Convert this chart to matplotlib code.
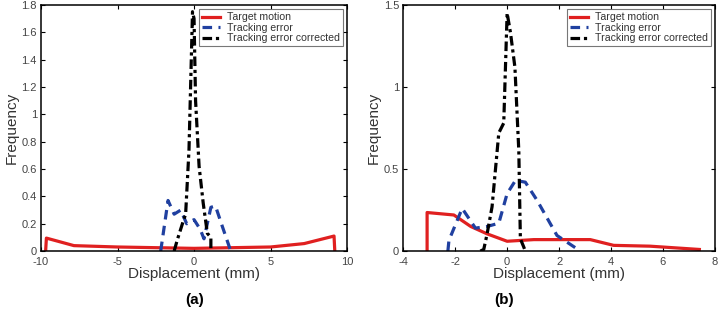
import matplotlib
matplotlib.use('Agg')
import matplotlib.pyplot as plt

plt.rcParams['font.family'] = ['Liberation Sans', 'DejaVu Sans']
plt.rcParams['axes.unicode_minus'] = False

# (a) values
a_target_x = [-9.7, -9.65, -7.85, -5.0, 0.0, 5.0, 7.2, 9.15, 9.2]
a_target_y = [0.0, 0.095, 0.04, 0.03, 0.02, 0.03, 0.055, 0.11, 0.0]
a_err_x = [-2.18, -1.7, -1.3, -0.87, -0.48, 0.0, 0.4, 0.65, 1.1, 1.4, 1.85, 2.4]
a_err_y = [0.0, 0.37, 0.27, 0.30, 0.20, 0.23, 0.16, 0.09, 0.32, 0.33, 0.18, 0.0]
a_cor_x = [-1.3, -1.1, -0.76, -0.55, -0.33, -0.1, 0.0, 0.1, 0.33, 0.6, 0.87, 1.1, 1.1]
a_cor_y = [0.0, 0.08, 0.2, 0.27, 0.74, 1.75, 1.7, 1.1, 0.62, 0.35, 0.13, 0.1, 0.0]

# (b)
b_target_x = [-3.08, -3.08, -2.05, -1.4, -0.77, 0.0, 1.03, 3.2, 4.1, 5.5, 7.4]
b_target_y = [0.0, 0.235, 0.22, 0.15, 0.105, 0.06, 0.07, 0.07, 0.035, 0.03, 0.01]
b_err_x = [-2.28, -2.24, -1.73, -1.22, -0.77, -0.32, 0.0, 0.32, 0.7, 1.15, 1.92, 2.3, 2.82]
b_err_y = [0.0, 0.065, 0.26, 0.14, 0.15, 0.17, 0.35, 0.43, 0.42, 0.31, 0.095, 0.055, 0.0]
b_cor_x = [-1.03, -0.9, -0.77, -0.58, -0.32, -0.13, 0.0, 0.13, 0.3, 0.45, 0.51, 0.64, 0.7]
b_cor_y = [0.0, 0.01, 0.105, 0.27, 0.72, 0.78, 1.45, 1.33, 1.12, 0.61, 0.075, 0.025, 0.0]

labels = ['Target motion', 'Tracking error', 'Tracking error corrected']

fig = plt.figure(figsize=(7.2, 3.24), dpi=100)
ax1 = fig.add_axes([0.057, 0.225, 0.425, 0.76])
ax2 = fig.add_axes([0.56, 0.225, 0.433, 0.76])


def draw(ax, tx, ty, ex, ey, cx, cy, xlim, ylim, xticks, yticks):
    ax.plot(tx, ty, color='#e02020', lw=2.3, label=labels[0])
    ax.plot(ex, ey, color='#2040a0', lw=2.3, ls=(0, (3, 2)), label=labels[1])
    ax.plot(cx, cy, color='black', lw=2.3, ls=(0, (3, 1.2, 1, 1.2)), label=labels[2])
    ax.set_xlim(xlim)
    ax.set_ylim(ylim)
    ax.set_xticks(xticks)
    ax.set_yticks(yticks)
    for s in ax.spines.values():
        s.set_linewidth(1.1)
    ax.tick_params(direction='in', top=True, right=True, labelsize=8,
                   labelcolor='#444444', length=3)
    ax.tick_params(axis='x', pad=4)
    ax.tick_params(axis='y', pad=3)
    ax.set_xlabel('Displacement (mm)', fontsize=11, color='#333333', labelpad=0)
    ax.set_ylabel('Frequency', fontsize=11, color='#333333', labelpad=2)
    leg = ax.legend(loc='upper right', fontsize=7.6, frameon=True, fancybox=False,
                    edgecolor='#555555', borderpad=0.3, labelspacing=0.05,
                    handlelength=1.7, handletextpad=0.6, borderaxespad=0.4)
    leg.get_frame().set_linewidth(0.8)
    for t in leg.get_texts():
        t.set_color('#333333')


draw(ax1, a_target_x, a_target_y, a_err_x, a_err_y, a_cor_x, a_cor_y,
     (-10, 10), (0, 1.8), [-10, -5, 0, 5, 10],
     [0, 0.2, 0.4, 0.6, 0.8, 1, 1.2, 1.4, 1.6, 1.8])
ax1.set_yticklabels(['0', '0.2', '0.4', '0.6', '0.8', '1', '1.2', '1.4', '1.6', '1.8'])
draw(ax2, b_target_x, b_target_y, b_err_x, b_err_y, b_cor_x, b_cor_y,
     (-4, 8), (0, 1.5), [-4, -2, 0, 2, 4, 6, 8], [0, 0.5, 1, 1.5])
ax2.set_yticklabels(['0', '0.5', '1', '1.5'])

fig.text(0.27, 0.075, '(a)', ha='center', va='center', fontsize=11, fontweight='bold')
fig.text(0.70, 0.075, '(b)', ha='center', va='center', fontsize=11, fontweight='bold')

fig.savefig('out.png', dpi=100)
